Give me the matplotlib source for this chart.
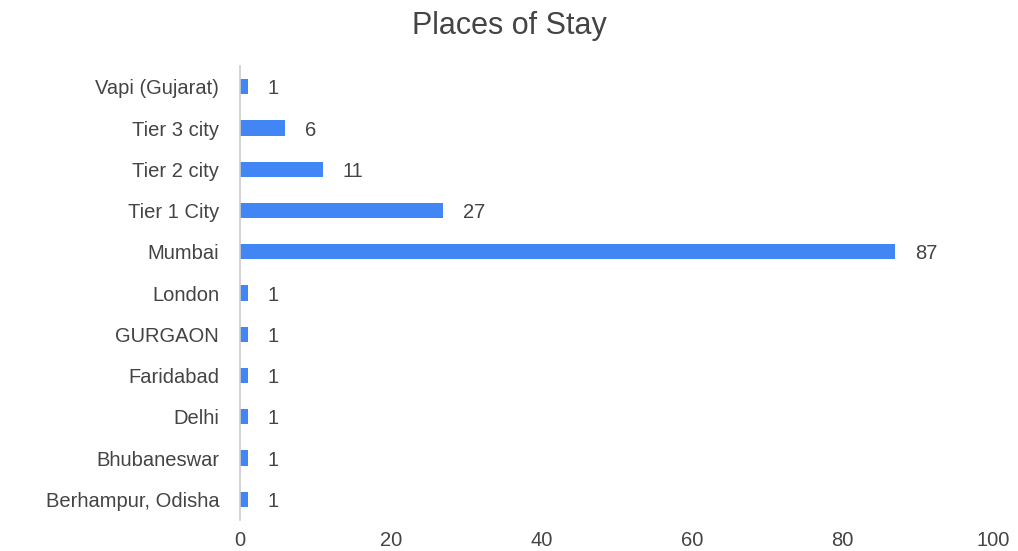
import matplotlib
matplotlib.use("Agg")
import matplotlib.pyplot as plt

categories = ["Berhampur, Odisha", "Bhubaneswar", "Delhi", "Faridabad", "GURGAON",
              "London", "Mumbai", "Tier 1 City", "Tier 2 city", "Tier 3 city", "Vapi (Gujarat)"]
values = [1, 1, 1, 1, 1, 1, 87, 27, 11, 6, 1]
xticks = [0, 20, 40, 60, 80, 100]

plt.rcParams['font.family'] = ['Liberation Sans', 'DejaVu Sans']
TXT = "#444444"

fig = plt.figure(figsize=(10.18, 5.51), dpi=100)
ax = fig.add_axes([0.2358, 0.0563, 0.7396, 0.8237])

ypos = range(len(categories))
ax.barh(ypos, values, height=0.37, color="#4285F4")
for y, v in zip(ypos, values):
    ax.text(v + 2.6, y, str(v), va="center_baseline", ha="left", fontsize=14.5, color=TXT)

ax.set_xlim(0, 100)
ax.set_ylim(-0.5, len(categories) - 0.5)
ax.set_yticks(list(ypos))
ax.set_yticklabels(categories, fontsize=14.5, color=TXT)
ax.set_xticks(xticks)
ax.set_xticklabels([str(t) for t in xticks], fontsize=14.5, color=TXT)
ax.tick_params(axis="both", length=0)
ax.tick_params(axis="y", pad=15)
ax.tick_params(axis="x", pad=8)
for s in ["top", "right", "bottom"]:
    ax.spines[s].set_visible(False)
ax.spines["left"].set_color("#cccccc")
ax.spines["left"].set_linewidth(1.2)

fig.text(0.5, 0.952, "Places of Stay", ha="center", va="center", fontsize=22, color=TXT)

fig.savefig("out.png", dpi=100, facecolor="white")
